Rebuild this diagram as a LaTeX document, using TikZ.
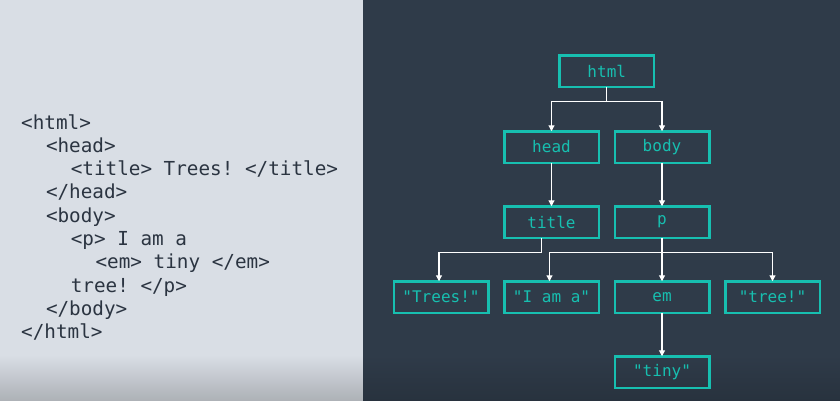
\documentclass[tikz,border=0pt]{standalone}
\usepackage{fontspec}
\usepackage{tikz}
\usetikzlibrary{positioning, arrows.meta, calc}
\newfontfamily\codefont{DejaVu Sans Mono}
\definecolor{panellight}{HTML}{D9DEE5}
\definecolor{paneldark}{HTML}{2F3B49}
\definecolor{codeink}{HTML}{2B3441}
\definecolor{domteal}{HTML}{17BFB0}
\frenchspacing

\begin{document}
\begin{tikzpicture}[
    x=1pt, y=1pt,
    domnode/.style={draw=domteal, line width=2.5pt, rectangle, minimum width=94.5pt, minimum height=31.5pt, inner sep=0pt, outer sep=0pt, text=domteal, font=\codefont\fontsize{16}{19}\selectfont},
    edge/.style={draw=white, line width=1.2pt, -{Triangle[length=6pt, width=6pt]}},
    codeline/.style={anchor=base west, inner sep=0pt, text=codeink, font=\codefont\fontsize{19.3}{23}\selectfont}
]

% Hintergrund: zwei Hälften
\fill[panellight] (0,0) rectangle (363,400);
\fill[paneldark] (363,0) rectangle (840,400);
\shade[top color=panellight, bottom color=panellight!80!black] (0,0) rectangle (363,45);
\shade[top color=paneldark, bottom color=paneldark!85!black] (363,0) rectangle (840,45);
\useasboundingbox (0,0) rectangle (840,400);

% Quelltext der linken Hälfte
\foreach \ind/\txt [count=\i from 0] in {0/{<html>}, 2/{<head>}, 4/{<title> Trees! </title>}, 2/{</head>}, 2/{<body>}, 4/{<p> I am a}, 6/{<em> tiny </em>}, 4/{tree! </p>}, 2/{</body>}, 0/{</html>}}
    \node[codeline] (line\i) at ({21+\ind*12.4}, {271-23.3*\i}) {\txt};

% Knoten des Baums (rechte Hälfte)
\node[domnode] (head) at (551.5,253) {head};
\node[domnode, right=16pt of head] (body) {body};
\node[domnode, above=44.5pt] (html) at ($(head.north)!0.5!(body.north)$) {html};
\node[domnode, below=43.5pt of head] (title) {title};
\node[domnode, below=43.5pt of body] (p) {p};
\node[domnode, below=43.5pt of title] (iama) {"I am a"};
\node[domnode, left=16pt of iama] (trees) {"Trees!"};
\node[domnode, below=43.5pt of p] (em) {em};
\node[domnode, right=16pt of em] (treeb) {"tree!"};
\node[domnode, below=43.5pt of em] (tiny) {"tiny"};

% Kanten
\draw[edge] (html.south) -- ++(0,-15) -| (head.north);
\draw[edge] (html.south) -- ++(0,-15) -| (body.north);
\draw[edge] (head) -- (title);
\draw[edge] (body) -- (p);
\draw[edge] ([xshift=-10pt]title.south) -- ++(0,-15) -| ([xshift=-2pt]trees.north);
\draw[edge] (p.south) -- ++(0,-15) -| ([xshift=-2pt]iama.north);
\draw[edge] (p.south) -- (em.north);
\draw[edge] (p.south) -- ++(0,-15) -| (treeb.north);
\draw[edge] (em) -- (tiny);

\end{tikzpicture}
\end{document}
